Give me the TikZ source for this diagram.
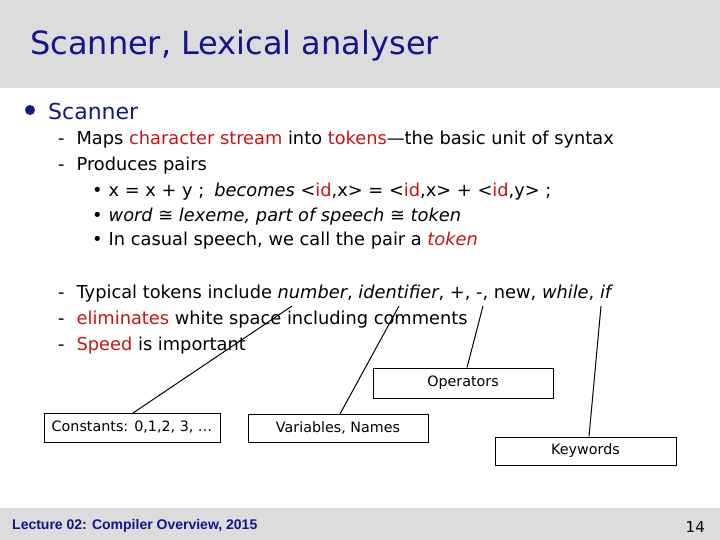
\documentclass[tikz,border=0pt]{standalone}
\usepackage{fontspec}
\setmainfont{DejaVu Sans}
\newfontfamily\footfont{Liberation Sans}
\definecolor{navy}{RGB}{20,20,140}
\definecolor{hred}{RGB}{200,20,20}
\definecolor{band}{RGB}{220,220,220}
\begin{document}
\begin{tikzpicture}[x=1pt,y=-1pt,
  txt/.style={anchor=west,inner sep=0pt,font=\fontsize{17.8}{20}\selectfont},
  box/.style={draw,thick,inner sep=0pt,font=\fontsize{14.3}{16}\selectfont},
  conn/.style={line width=1pt}]
\useasboundingbox (0,0) rectangle (720,540);
\fill[band] (0,0) rectangle (720,88);
\fill[band] (0,508) rectangle (720,540);
\node[anchor=west,inner sep=0pt,text=navy,font=\fontsize{32}{36}\selectfont] (title) at (30,46) {Scanner, Lexical analyser};
\node[circle,fill=navy,inner sep=0pt,minimum size=10pt] (dot) at (30,110) {};
\node[txt,text=navy,font=\fontsize{22}{26}\selectfont] (scanner) at (48,111) {Scanner};
\node[txt] (l1) at (58,140) {-\hspace{12pt}Maps \textcolor{hred}{character stream} into \textcolor{hred}{tokens}—the basic unit of syntax};
\node[txt] (l2) at (58,166) {-\hspace{12pt}Produces pairs};
\node[txt] (b1) at (92,192) {\textbullet\hspace{6pt}x = x + y ;\hspace{10pt}\textit{becomes} <\textcolor{hred}{id},x> = <\textcolor{hred}{id},x> + <\textcolor{hred}{id},y> ;};
\node[txt] (b2) at (92,217) {\textbullet\hspace{6pt}\textit{word ≅ lexeme, part of speech ≅ token}};
\node[txt] (b3) at (92,241) {\textbullet\hspace{6pt}In casual speech, we call the pair a \textcolor{hred}{\textit{token}}};
\node[txt] (l3) at (58,294) {-\hspace{12pt}Typical tokens include \textit{number}, \textit{identifier}, +, -, new, \textit{while}, \textit{if}};
\node[txt] (l4) at (58,320) {-\hspace{12pt}\textcolor{hred}{eliminates} white space including comments};
\node[txt] (l5) at (58,346) {-\hspace{12pt}\textcolor{hred}{Speed} is important};
\node[box,minimum width=176pt,minimum height=29pt] (const) at (132,427.5) {Constants: 0,1,2, 3, …};
\node[box,minimum width=180pt,minimum height=28pt] (vars) at (338,428) {Variables, Names};
\node[box,minimum width=180pt,minimum height=30pt] (ops) at (463,383) {Operators};
\node[box,minimum width=181pt,minimum height=28pt] (kw) at (585.5,451) {Keywords};
\coordinate (cnum) at (292,306);
\coordinate (cid) at (399,306);
\coordinate (cplus) at (483,306);
\coordinate (cwhile) at (601,306);
\draw[conn] (cnum) -- (133,413);
\draw[conn] (cid) -- (340,414);
\draw[conn] (cplus) -- (ops.north -| 467,0);
\draw[conn] (cwhile) -- (kw.north -| 589,0);
\node[anchor=west,inner sep=0pt,text=navy,font=\footfont\bfseries\fontsize{14}{16}\selectfont] (foot) at (12,526) {Lecture 02: Compiler Overview, 2015};
\node[anchor=east,inner sep=0pt,font=\fontsize{15}{17}\selectfont] (pg) at (705,527) {14};
\end{tikzpicture}
\end{document}
